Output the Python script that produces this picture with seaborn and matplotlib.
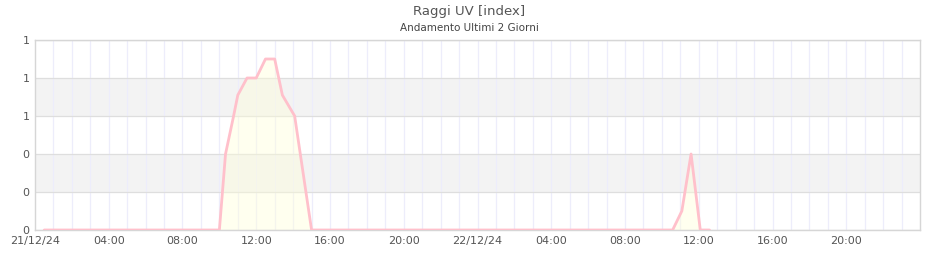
import matplotlib
matplotlib.use("Agg")
import matplotlib.pyplot as plt
import seaborn as sns
import pandas as pd

# ---- data ----
times = [
    "2024-12-21 00:30", "2024-12-21 10:00", "2024-12-21 10:20", "2024-12-21 10:45",
    "2024-12-21 11:00", "2024-12-21 11:30", "2024-12-21 12:00", "2024-12-21 12:30",
    "2024-12-21 13:00", "2024-12-21 13:25", "2024-12-21 14:05", "2024-12-21 15:00",
    "2024-12-22 10:35", "2024-12-22 11:05", "2024-12-22 11:35", "2024-12-22 12:05",
    "2024-12-22 12:35",
]
uv = [0.0, 0.0, 0.40, 0.59, 0.71, 0.80, 0.80, 0.90, 0.90, 0.71, 0.60, 0.0,
      0.0, 0.10, 0.40, 0.0, 0.0]

y_ticks = [0.0, 0.2, 0.4, 0.6, 0.8, 1.0]
y_tick_labels = ["0", "0", "0", "1", "1", "1"]
x_tick_times = ["2024-12-21 00:00", "2024-12-21 04:00", "2024-12-21 08:00",
                "2024-12-21 12:00", "2024-12-21 16:00", "2024-12-21 20:00",
                "2024-12-22 00:00", "2024-12-22 04:00", "2024-12-22 08:00",
                "2024-12-22 12:00", "2024-12-22 16:00", "2024-12-22 20:00"]
x_tick_labels = ["21/12/24", "04:00", "08:00", "12:00", "16:00", "20:00",
                 "22/12/24", "04:00", "08:00", "12:00", "16:00", "20:00"]
title = "Raggi UV [index]"
subtitle = "Andamento Ultimi 2 Giorni"

df = pd.DataFrame({"time": pd.to_datetime(times), "uv": uv})

sns.set_theme(style="white")
plt.rcParams["font.family"] = ["DejaVu Sans"]

fig = plt.figure(figsize=(9.4, 2.6), dpi=100)
ax = fig.add_axes([35 / 940, 30 / 260, 885 / 940, 190 / 260])

t0 = pd.Timestamp("2024-12-21 00:00")
t1 = pd.Timestamp("2024-12-23 00:00")

# alternating bands
for lo, hi in [(0.2, 0.4), (0.6, 0.8)]:
    ax.axhspan(lo, hi, color="#f3f3f3", zorder=0, lw=0)

# hourly vertical grid
hours = pd.date_range(t0, t1, freq="1h")
for h in hours[1:-1]:
    ax.axvline(h, color="#ededfb", lw=0.9, zorder=1)
for yv in y_ticks:
    ax.axhline(yv, color="#dedede", lw=0.9, zorder=1)

ax.fill_between(df["time"], df["uv"], 0, color="#ffffd8", alpha=0.4, zorder=2, lw=0)
sns.lineplot(data=df, x="time", y="uv", ax=ax, color="#ffc0cb", lw=2.0, zorder=3)

ax.set_xlim(t0, t1)
ax.set_ylim(0, 1.0)
ax.set_yticks(y_ticks)
ax.set_yticklabels(y_tick_labels)
ax.set_xticks(pd.to_datetime(x_tick_times))
ax.set_xticklabels(x_tick_labels)
ax.tick_params(axis="both", labelsize=8, colors="#555555", length=0, pad=4)
ax.set_xlabel("")
ax.set_ylabel("")
for s in ax.spines.values():
    s.set_color("#d6d6d6")
    s.set_linewidth(1.0)

fig.text(469 / 940, 1 - 11 / 260, title, ha="center", va="center", fontsize=9.5, color="#555555")
fig.text(469 / 940, 1 - 28 / 260, subtitle, ha="center", va="center", fontsize=7.5, color="#444444")

fig.savefig("out.png", dpi=100)
